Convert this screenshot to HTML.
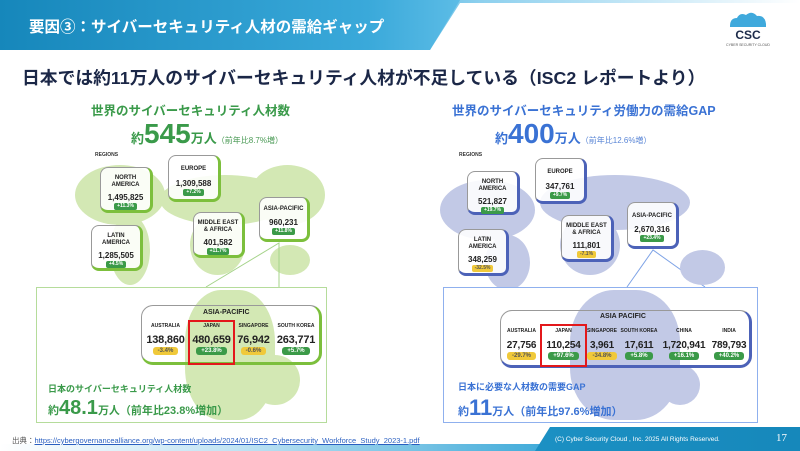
<!DOCTYPE html>
<html><head><meta charset="utf-8"><style>
*{margin:0;padding:0;box-sizing:border-box}
body{width:800px;height:451px;overflow:hidden;background:#fff;position:relative;font-family:"Liberation Sans","Noto Sans CJK JP",sans-serif}
.a{position:absolute}
.t{position:absolute;white-space:nowrap}
.rb{position:absolute;border:1.5px solid #999;border-radius:8px;background:rgba(255,255,255,.88);text-align:center;font-weight:bold;color:#222;line-height:1}
.rb .n{font-size:6px;line-height:7px;margin-top:7px}
.rb .v{font-size:8px;line-height:10px;margin-top:4px}
.rb .p{display:inline-block;font-size:5px;color:#fff;padding:0 3px;border-radius:2px;line-height:7px;vertical-align:top}
.g .rb{border-right:3px solid #7cbf3c;border-bottom:3px solid #7cbf3c}
.b .rb{border-right:3px solid #4c62b8;border-bottom:3px solid #4c62b8}
.pg{background:#3b9a48}.py{background:#f0c93a;color:#555!important}
.cell{position:absolute;text-align:center;font-weight:bold;color:#222;line-height:1}
.cell .n{font-size:5px;line-height:6px}
.cell .v{font-size:11px;line-height:13px;margin-top:5px;letter-spacing:-.2px}
.cell .p{display:inline-block;font-size:6px;color:#fff;padding:0 5px;border-radius:3px;line-height:8px;vertical-align:top}
.mg{position:absolute;background:#d3e8b4;border-radius:50%}
.mb{position:absolute;background:#c2c9e6;border-radius:50%}
</style></head><body>
<!-- header -->
<div class="a" style="left:0;top:0;width:800px;height:50px;background:linear-gradient(90deg,#1a8cbe 0%,#43aede 45%,#8dd0ee 60%,#fff 100%);clip-path:polygon(0 0,800px 0,800px 3px,460px 3px,430px 50px,0 50px)"></div>
<div class="a" style="left:0;top:0;width:460px;height:50px;background:linear-gradient(90deg,#1687bb,#3aa9da 80%,#5cbce6);clip-path:polygon(0 0,460px 0,430px 50px,0 50px)"></div>
<div class="t" style="left:29px;top:15px;font-size:15.5px;color:#fff;font-weight:bold">要因③：サイバーセキュリティ人材の需給ギャップ</div>
<!-- logo -->
<svg class="a" style="left:722px;top:10px" width="52" height="38"><path d="M8 16 Q8 8 15 8 Q18 2 24 5 Q30 0 35 6 Q43 5 44 14 L44 17 L8 17Z" fill="#3fa9dc"/><text x="26" y="29" text-anchor="middle" font-size="12" font-weight="bold" fill="#1d2b4a" font-family="Liberation Sans">CSC</text><text x="26" y="36" text-anchor="middle" font-size="3.5" fill="#555" font-family="Liberation Sans">CYBER SECURITY CLOUD</text></svg>
<div class="t" style="left:22px;top:64px;font-size:17.8px;font-weight:bold;color:#1b2747">日本では約11万人のサイバーセキュリティ人材が不足している（ISC2 レポートより）</div>

<!-- LEFT -->
<div class="t" style="left:91px;top:100px;font-size:12.5px;font-weight:bold;color:#3a9a4a">世界のサイバーセキュリティ人材数</div>
<div class="t" style="left:131px;top:118px;color:#3a9a4a;font-weight:bold"><span style="font-size:13px">約</span><span style="font-size:28px">545</span><span style="font-size:13px">万人</span><span style="font-size:8px;font-weight:normal;color:#4a9a55">（前年比8.7%増）</span></div>
<div class="g">
<div class="mg" style="left:75px;top:165px;width:90px;height:60px"></div>
<div class="mg" style="left:110px;top:215px;width:40px;height:70px"></div>
<div class="mg" style="left:160px;top:175px;width:130px;height:50px"></div>
<div class="mg" style="left:190px;top:215px;width:55px;height:60px"></div>
<div class="mg" style="left:250px;top:165px;width:75px;height:60px"></div>
<div class="mg" style="left:270px;top:245px;width:40px;height:30px"></div>
<div class="t" style="left:95px;top:152px;font-size:5px;font-weight:bold;color:#333">REGIONS</div>
<div class="rb" style="left:100px;top:167px;width:53px;height:46px"><div class="n">NORTH<br>AMERICA</div><div class="v">1,495,825</div><span class="p pg">+11.3%</span></div>
<div class="rb" style="left:168px;top:155px;width:53px;height:47px"><div class="n" style="margin-top:10px">EUROPE</div><div class="v" style="margin-top:6px">1,309,588</div><span class="p pg">+7.2%</span></div>
<div class="rb" style="left:91px;top:225px;width:52px;height:46px"><div class="n">LATIN<br>AMERICA</div><div class="v">1,285,505</div><span class="p pg">+4.5%</span></div>
<div class="rb" style="left:193px;top:212px;width:52px;height:46px"><div class="n">MIDDLE EAST<br>&amp; AFRICA</div><div class="v">401,582</div><span class="p pg">+11.7%</span></div>
<div class="rb" style="left:259px;top:197px;width:51px;height:45px"><div class="n" style="margin-top:8px">ASIA-PACIFIC</div><div class="v" style="margin-top:5px">960,231</div><span class="p pg">+11.8%</span></div>
</div>
<svg class="a" style="left:0;top:0" width="800" height="451">
<polyline points="206,287 279,243 279,287" fill="none" stroke="#a5d38a" stroke-width="1"/>
<polyline points="627,287 653,250 705,287" fill="none" stroke="#7ea3e6" stroke-width="1"/>
</svg>
<div class="a" style="left:36px;top:287px;width:291px;height:136px;border:1.5px solid #b5dc9b;background:#fff"></div>
<div class="mg" style="left:185px;top:290px;width:90px;height:130px;border-radius:40%"></div>
<div class="mg" style="left:250px;top:355px;width:50px;height:50px"></div>
<div class="a" style="left:141px;top:305px;width:181px;height:60px;border:1.5px solid #999;border-radius:12px;border-right:3px solid #7cbf3c;border-bottom:3px solid #7cbf3c"></div>
<div class="t" style="left:203px;top:309px;font-size:7px;font-weight:bold;color:#222">ASIA-PACIFIC</div>
<div class="cell" style="left:143px;top:323px;width:45px"><div class="n">AUSTRALIA</div><div class="v">138,860</div><span class="p py">-3.4%</span></div>
<div class="cell" style="left:189px;top:323px;width:45px"><div class="n">JAPAN</div><div class="v">480,659</div><span class="p pg">+23.8%</span></div>
<div class="cell" style="left:234px;top:323px;width:39px"><div class="n">SINGAPORE</div><div class="v">76,942</div><span class="p py">-0.6%</span></div>
<div class="cell" style="left:273px;top:323px;width:46px"><div class="n">SOUTH KOREA</div><div class="v">263,771</div><span class="p pg">+5.7%</span></div>
<div class="a" style="left:188px;top:320px;width:47px;height:45px;border:2px solid #e3181b"></div>
<div class="t" style="left:48px;top:382px;font-size:9px;font-weight:bold;color:#3a9a4a">日本のサイバーセキュリティ人材数</div>
<div class="t" style="left:48px;top:397px;color:#3a9a4a;font-weight:bold"><span style="font-size:11px">約</span><span style="font-size:20px">48.1</span><span style="font-size:11px">万人（前年比23.8%増加）</span></div>

<!-- RIGHT -->
<div class="t" style="left:452px;top:100px;font-size:12.5px;font-weight:bold;color:#3a72d4">世界のサイバーセキュリティ労働力の需給GAP</div>
<div class="t" style="left:495px;top:118px;color:#3a72d4;font-weight:bold"><span style="font-size:13px">約</span><span style="font-size:28px">400</span><span style="font-size:13px">万人</span><span style="font-size:8px;font-weight:normal;color:#5a86d6">（前年比12.6%増）</span></div>
<div class="b">
<div class="mb" style="left:440px;top:180px;width:95px;height:60px"></div>
<div class="mb" style="left:485px;top:235px;width:45px;height:55px"></div>
<div class="mb" style="left:540px;top:175px;width:150px;height:55px"></div>
<div class="mb" style="left:560px;top:215px;width:60px;height:60px"></div>
<div class="mb" style="left:680px;top:250px;width:45px;height:35px"></div>
<div class="t" style="left:459px;top:152px;font-size:5px;font-weight:bold;color:#333">REGIONS</div>
<div class="rb" style="left:467px;top:171px;width:53px;height:44px"><div class="n">NORTH<br>AMERICA</div><div class="v">521,827</div><span class="p pg">+19.7%</span></div>
<div class="rb" style="left:535px;top:158px;width:52px;height:46px"><div class="n" style="margin-top:10px">EUROPE</div><div class="v" style="margin-top:6px">347,761</div><span class="p pg">+9.7%</span></div>
<div class="rb" style="left:458px;top:229px;width:51px;height:47px"><div class="n">LATIN<br>AMERICA</div><div class="v">348,259</div><span class="p py">-32.5%</span></div>
<div class="rb" style="left:561px;top:215px;width:53px;height:47px"><div class="n">MIDDLE EAST<br>&amp; AFRICA</div><div class="v">111,801</div><span class="p py">-7.1%</span></div>
<div class="rb" style="left:627px;top:202px;width:52px;height:47px"><div class="n" style="margin-top:10px">ASIA-PACIFIC</div><div class="v" style="margin-top:5px">2,670,316</div><span class="p pg">+23.4%</span></div>
</div>
<div class="a" style="left:443px;top:287px;width:315px;height:136px;border:1.5px solid #8fb0ee;background:#fff"></div>
<div class="mb" style="left:570px;top:290px;width:110px;height:130px;border-radius:40%"></div>
<div class="mb" style="left:660px;top:365px;width:40px;height:40px"></div>
<div class="a" style="left:500px;top:310px;width:252px;height:58px;border:1.5px solid #999;border-radius:12px;border-right:3px solid #4c62b8;border-bottom:3px solid #4c62b8"></div>
<div class="t" style="left:600px;top:313px;font-size:7px;font-weight:bold;color:#222">ASIA PACIFIC</div>
<div class="cell" style="left:503px;top:328px;width:37px"><div class="n">AUSTRALIA</div><div class="v" style="font-size:10px">27,756</div><span class="p py">-29.7%</span></div>
<div class="cell" style="left:541px;top:328px;width:45px"><div class="n">JAPAN</div><div class="v" style="font-size:10px">110,254</div><span class="p pg">+97.6%</span></div>
<div class="cell" style="left:586px;top:328px;width:32px"><div class="n">SINGAPORE</div><div class="v" style="font-size:10px">3,961</div><span class="p py">-34.8%</span></div>
<div class="cell" style="left:618px;top:328px;width:42px"><div class="n">SOUTH KOREA</div><div class="v" style="font-size:10px">17,611</div><span class="p pg">+5.8%</span></div>
<div class="cell" style="left:660px;top:328px;width:48px"><div class="n">CHINA</div><div class="v" style="font-size:10px">1,720,941</div><span class="p pg">+16.1%</span></div>
<div class="cell" style="left:708px;top:328px;width:42px"><div class="n">INDIA</div><div class="v" style="font-size:10px">789,793</div><span class="p pg">+40.2%</span></div>
<div class="a" style="left:540px;top:324px;width:47px;height:43px;border:2px solid #e3181b"></div>
<div class="t" style="left:458px;top:380px;font-size:9px;font-weight:bold;color:#3a72d4">日本に必要な人材数の需要GAP</div>
<div class="t" style="left:458px;top:395px;color:#3a72d4;font-weight:bold"><span style="font-size:11px">約</span><span style="font-size:22px">11</span><span style="font-size:11px">万人（前年比97.6%増加）</span></div>

<!-- footer -->
<div class="a" style="left:0;top:444px;width:800px;height:7px;background:linear-gradient(90deg,#fff 0%,#bfe3f3 30%,#3aa8d8 70%,#1b8dc0 100%)"></div>
<div class="a" style="left:0;top:427px;width:800px;height:24px;background:linear-gradient(90deg,#27a0d4,#1688bb);clip-path:polygon(550px 0,800px 0,800px 24px,535px 24px)"></div>
<div class="t" style="left:12px;top:435px;font-size:7.5px;color:#555">出典：<span style="color:#2a5fc0;text-decoration:underline">https://cybergovernancealliance.org/wp-content/uploads/2024/01/ISC2_Cybersecurity_Workforce_Study_2023-1.pdf</span></div>
<div class="t" style="left:555px;top:436px;font-size:6.5px;color:#fff">(C) Cyber Security Cloud , Inc.  2025  All Rights Reserved.</div>
<div class="t" style="left:776px;top:432px;font-size:11px;color:#fff;font-family:'Liberation Serif',serif">17</div>
</body></html>
